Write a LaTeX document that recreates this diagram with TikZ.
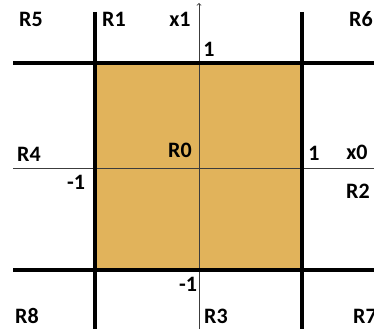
\documentclass[tikz,border=0pt]{standalone}
\usepackage{fontspec}
\setmainfont{Carlito}
\usepackage{tikz}
\definecolor{boxGold}{RGB}{225, 179, 91}
\definecolor{axisGray}{RGB}{60, 60, 60}

\tikzset{
  lbl/.style={font=\fontsize{22}{26}\selectfont\bfseries, inner sep=0pt},
  border/.style={line width=4pt},
  axis/.style={axisGray, line width=0.8pt}
}

\begin{document}
\begin{tikzpicture}[x=1pt, y=-1pt]
        \clip (0,0) rectangle (374,329);
        \useasboundingbox (0,0) rectangle (374,329);
        % corners of the square
        \coordinate (tl) at (95,63);
        \coordinate (br) at (302,270);
        \fill[boxGold] (tl) rectangle (br);
        % axes
        \coordinate (xs) at (13,168);
        \coordinate (xe) at (374,168);
        \coordinate (ys) at (199,329);
        \coordinate (ye) at (199,3);
        \draw[axis] (xs) -- (xe);
        \draw[axis, ->] (ys) -- (ye);
        % region borders
        \draw[border] (13,63) -- (374,63);
        \draw[border] (13,270) -- (374,270);
        \draw[border] (95,12) -- (95,329);
        \draw[border] (302,12) -- (302,329);
        % labels
        \node[lbl] (r5) at (31,19) {R5};
        \node[lbl] (r1) at (114,19) {R1};
        \node[lbl] (x1) at (180,19) {x1};
        \node[lbl, anchor=west] (r6) at (349,19) {R6};
        \node[lbl] (one1) at (209,49) {1};
        \node[lbl] (r4) at (29,154) {R4};
        \node[lbl] (r0) at (180,150) {R0};
        \node[lbl] (one0) at (314,153) {1};
        \node[lbl] (x0) at (357,152) {x0};
        \node[lbl] (mone0) at (76,182) {-1};
        \node[lbl] (r2) at (358,191) {R2};
        \node[lbl] (mone1) at (188,284) {-1};
        \node[lbl] (r8) at (27,316) {R8};
        \node[lbl] (r3) at (216,316) {R3};
        \node[lbl, anchor=west] (r7) at (353,316) {R7};
      \end{tikzpicture}
\end{document}
